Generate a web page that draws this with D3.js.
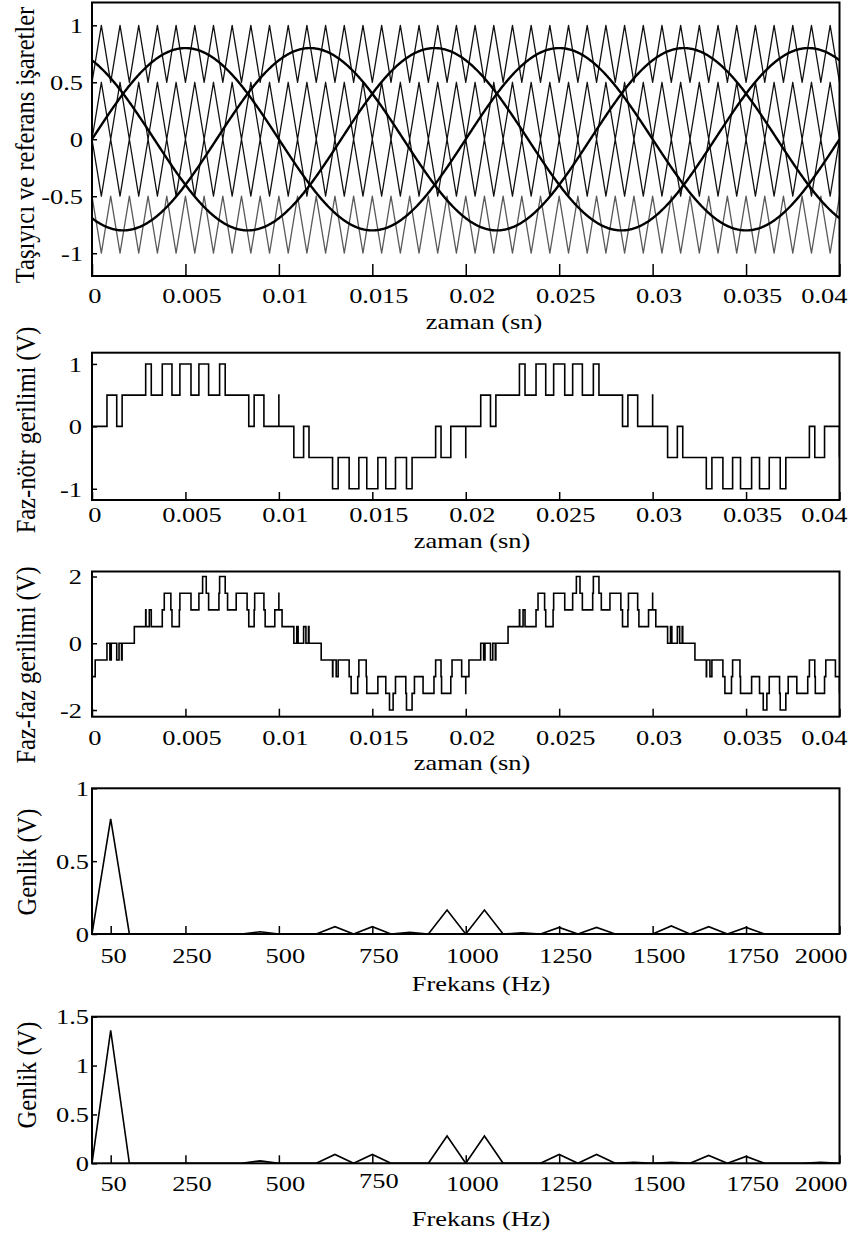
<!DOCTYPE html>
<html>
<head>
<meta charset="utf-8">
<script src="https://cdn.jsdelivr.net/npm/d3@7"></script>
<style>
  body { margin: 0; background: #fff; }
  svg { display: block; }
  text { font-family: "Liberation Serif", "Times New Roman", serif; fill: #000; }
</style>
</head>
<body>
<svg id="fig" width="862" height="1241"></svg>
<script>
// ---- time axis ----
const timeTicks = [0, 0.005, 0.01, 0.015, 0.02, 0.025, 0.03, 0.035, 0.04];
const timeTickLabels = ["0", "0.005", "0.01", "0.015", "0.02", "0.025", "0.03", "0.035", "0.04"];

// ---- modulation: three-phase sine references, level-shifted triangle carriers
//      (upper pair in phase, lower pair in opposition) ----
const referenceFrequencyHz = [50];
const referenceAmplitude = [0.8];
const referencePhasesDeg = [0, 120, -120];
const carrierFrequencyHz = [1000];
const carrierBandLow = [0.5, 0, -0.5, -1];
const carrierBandHigh = [1, 0.5, 0, -0.5];
const carrierPhaseDeg = [0, 0, 180, 180];
const outputLevelStep = [0.5];

// ---- y ticks ----
const carrierTicks = [-1, -0.5, 0, 0.5, 1];
const carrierTickLabels = ["-1", "-0.5", "0", "0.5", "1"];
const phaseTicks = [-1, 0, 1];
const phaseTickLabels = ["-1", "0", "1"];
const lineTicks = [-2, 0, 2];
const lineTickLabels = ["-2", "0", "2"];

// ---- harmonic spectra ----
const spectrumFreqHz = [0, 50, 100, 150, 200, 250, 300, 350, 400, 450, 500, 550, 600, 650, 700, 750, 800, 850, 900, 950,
  1000, 1050, 1100, 1150, 1200, 1250, 1300, 1350, 1400, 1450, 1500, 1550, 1600, 1650, 1700, 1750, 1800, 1850, 1900, 1950, 2000];
const phaseSpectrum = [0, 0.79, 0, 0, 0, 0, 0, 0, 0, 0.015, 0, 0, 0, 0.05, 0, 0.05, 0, 0.012, 0, 0.165,
  0, 0.165, 0, 0.008, 0, 0.045, 0, 0.045, 0, 0, 0, 0.055, 0, 0.05, 0, 0.045, 0, 0, 0, 0, 0];
const lineSpectrum = [0, 1.36, 0, 0, 0, 0, 0, 0, 0, 0.025, 0, 0, 0, 0.09, 0, 0.09, 0, 0, 0, 0.28,
  0, 0.28, 0, 0, 0, 0.09, 0, 0.09, 0, 0.01, 0, 0.01, 0, 0.08, 0, 0.07, 0, 0, 0, 0.01, 0];
const freqTicks = [50, 250, 500, 750, 1000, 1250, 1500, 1750, 2000];
const freqTickLabels = ["50", "250", "500", "750", "1000", "1250", "1500", "1750", "2000"];
const amp1Ticks = [0, 0.5, 1];
const amp1TickLabels = ["0", "0.5", "1"];
const amp2Ticks = [0, 0.5, 1, 1.5];
const amp2TickLabels = ["0", "0.5", "1", "1.5"];

// ---------------------------------------------------------------
const svg = d3.select("#fig");
const STRETCH = 1.2;           // wide glyph look of the labels
const FONT_TICK = 22;
const FONT_LABEL = 24.5;

const tEnd = timeTicks[timeTicks.length - 1];
const fc = carrierFrequencyHz[0];
const fr = referenceFrequencyHz[0];
const Am = referenceAmplitude[0];

function reference(t, phaseDeg) {
  return Am * Math.sin(2 * Math.PI * fr * t + phaseDeg * Math.PI / 180);
}
// unit triangle: 0 at the start of each carrier period, 1 at its middle
function triangleUnit(t, phaseDeg) {
  let f = (t * fc + phaseDeg / 360) % 1;
  if (f < 0) f += 1;
  return 1 - Math.abs(2 * f - 1);
}
function carrierValue(i, t) {
  return carrierBandLow[i] + (carrierBandHigh[i] - carrierBandLow[i]) * triangleUnit(t, carrierPhaseDeg[i]);
}
// output level of one phase leg from comparing its reference with every carrier
function legLevel(t, phaseDeg) {
  const r = reference(t, phaseDeg);
  let n = 0;
  for (let i = 0; i < carrierBandLow.length; i++) {
    if (r > carrierValue(i, t)) n++;
  }
  return (n - carrierBandLow.length / 2) * outputLevelStep[0];
}
// collect the switching instants of a level function as step points
function stepPoints(fn) {
  const N = 80000;
  const pts = [];
  let prev = fn(0);
  pts.push([0, prev]);
  for (let k = 1; k <= N; k++) {
    const t = tEnd * k / N;
    const v = fn(t);
    if (v !== prev) { pts.push([t, v]); prev = v; }
  }
  pts.push([tEnd, prev]);
  return pts;
}

let clipId = 0;
function makePanel(cfg) {
  const g = svg.append("g");
  const x = d3.scaleLinear().domain(cfg.xDomain).range([cfg.left, cfg.right]);
  const y = d3.scaleLinear().domain(cfg.yDomain).range([cfg.bottom, cfg.top]);
  const id = "clip" + (clipId++);
  g.append("clipPath").attr("id", id).append("rect")
    .attr("x", cfg.left).attr("y", cfg.top)
    .attr("width", cfg.right - cfg.left).attr("height", cfg.bottom - cfg.top);
  const plot = g.append("g").attr("clip-path", `url(#${id})`);

  // bottom axis with inward ticks
  const xAxis = d3.axisBottom(x).tickValues(cfg.xTicks)
    .tickFormat((d, i) => cfg.xLabels[i]).tickSize(-cfg.xTickLen).tickSizeOuter(0);
  const gx = g.append("g").attr("transform", `translate(0,${cfg.bottom})`).call(xAxis);
  gx.select(".domain").remove();
  gx.selectAll("line").attr("stroke", "#000").attr("stroke-width", 1.5);
  gx.selectAll("text")
    .attr("font-size", FONT_TICK).attr("dy", null)
    .attr("y", (d, i) => cfg.xLabelBase + (cfg.xLabelLift && cfg.xLabelLift[i] ? -cfg.xLabelLift[i] : 0))
    .attr("x", (d, i) => i === 0 ? 2 : (i === cfg.xTicks.length - 1 ? (cfg.lastRight - cfg.right) / STRETCH : 6 / STRETCH))
    .attr("text-anchor", (d, i) => i === cfg.xTicks.length - 1 ? "end" : "middle")
    .attr("transform", `scale(${STRETCH},1)`);

  // left axis with inward ticks
  const yAxis = d3.axisLeft(y).tickValues(cfg.yTicks)
    .tickFormat((d, i) => cfg.yLabels[i]).tickSize(-5).tickSizeOuter(0);
  const gy = g.append("g").attr("transform", `translate(${cfg.left},0)`).call(yAxis);
  gy.select(".domain").remove();
  gy.selectAll("line").attr("stroke", "#000").attr("stroke-width", 1.5);
  gy.selectAll("text")
    .attr("font-size", FONT_TICK).attr("dy", "0.33em")
    .attr("x", -cfg.yLabelGap / STRETCH)
    .attr("text-anchor", "end")
    .attr("transform", `scale(${STRETCH},1)`);

  // axis titles
  g.append("text")
    .attr("transform", `translate(${cfg.xTitleX},${cfg.xTitleY}) scale(${STRETCH},1)`)
    .attr("text-anchor", "middle").attr("font-size", FONT_TICK)
    .text(cfg.xTitle);
  g.append("text")
    .attr("transform", `translate(${cfg.yTitleX},${cfg.yTitleY}) scale(1.12,1) rotate(-90)`)
    .attr("text-anchor", "middle").attr("font-size", FONT_LABEL)
    .text(cfg.yTitle);

  return { g, plot, x, y, frame: () => g.append("rect")
    .attr("x", cfg.left).attr("y", cfg.top)
    .attr("width", cfg.right - cfg.left).attr("height", cfg.bottom - cfg.top)
    .attr("fill", "none").attr("stroke", "#000").attr("stroke-width", 2) };
}

const L = 92, R = 839.5, LAST_RIGHT = 847;

// ---- panel 1: carriers and references ----
{
  const p = makePanel({
    left: L, right: R, top: 2.5, bottom: 276,
    xDomain: [0, tEnd], yDomain: [-1.2, 1.2],
    xTicks: timeTicks, xLabels: timeTickLabels, xTickLen: 12, xLabelBase: 27.5, lastRight: LAST_RIGHT,
    yTicks: carrierTicks, yLabels: carrierTickLabels, yLabelGap: 9,
    xTitle: "zaman (sn)", xTitleX: 484, xTitleY: 328.5,
    yTitle: "Taşıyıcı ve referans işaretler", yTitleX: 34, yTitleY: 145
  });
  const line = d3.line().x(d => p.x(d[0])).y(d => p.y(d[1]));
  const halfSteps = Math.round(tEnd * fc * 2);
  carrierBandLow.forEach((lo, i) => {
    const verts = d3.range(halfSteps + 1).map(k => {
      const t = k / (2 * fc);
      return [t, carrierValue(i, t)];
    });
    p.plot.append("path").attr("d", line(verts)).attr("fill", "none")
      .attr("stroke", i === carrierBandLow.length - 1 ? "#5a5a5a" : "#111")
      .attr("stroke-width", 1.3).attr("stroke-linejoin", "round");
  });
  const ts = d3.range(0, 1001).map(k => tEnd * k / 1000);
  referencePhasesDeg.forEach(ph => {
    p.plot.append("path").attr("d", line(ts.map(t => [t, reference(t, ph)])))
      .attr("fill", "none").attr("stroke", "#000").attr("stroke-width", 2.4);
  });
  p.frame();
}

// ---- panel 2: phase-to-neutral voltage ----
{
  const p = makePanel({
    left: L, right: R, top: 352.7, bottom: 500,
    xDomain: [0, tEnd], yDomain: [-1.18, 1.18],
    xTicks: timeTicks, xLabels: timeTickLabels, xTickLen: 8, xLabelBase: 22.5, lastRight: LAST_RIGHT,
    yTicks: phaseTicks, yLabels: phaseTickLabels, yLabelGap: 10,
    xTitle: "zaman (sn)", xTitleX: 472, xTitleY: 547.5,
    yTitle: "Faz-nötr gerilimi (V)", yTitleX: 35, yTitleY: 430
  });
  const line = d3.line().curve(d3.curveStepAfter).x(d => p.x(d[0])).y(d => p.y(d[1]));
  const pts = stepPoints(t => legLevel(t, referencePhasesDeg[0]));
  p.plot.append("path").attr("d", line(pts)).attr("fill", "none")
    .attr("stroke", "#000").attr("stroke-width", 1.6);
  p.frame();
}

// ---- panel 3: line-to-line voltage ----
{
  const p = makePanel({
    left: L, right: R, top: 571.5, bottom: 716.7,
    xDomain: [0, tEnd], yDomain: [-2.2, 2.15],
    xTicks: timeTicks, xLabels: timeTickLabels, xTickLen: 8, xLabelBase: 28, lastRight: LAST_RIGHT,
    yTicks: lineTicks, yLabels: lineTickLabels, yLabelGap: 10,
    xTitle: "zaman (sn)", xTitleX: 472, xTitleY: 769.5,
    yTitle: "Faz-faz gerilimi (V)", yTitleX: 35, yTitleY: 665
  });
  const line = d3.line().curve(d3.curveStepAfter).x(d => p.x(d[0])).y(d => p.y(d[1]));
  const pts = stepPoints(t => legLevel(t, referencePhasesDeg[0]) - legLevel(t, referencePhasesDeg[1]));
  p.plot.append("path").attr("d", line(pts)).attr("fill", "none")
    .attr("stroke", "#000").attr("stroke-width", 1.6);
  p.frame();
}

// ---- panels 4 and 5: amplitude spectra ----
function spectrumPanel(values, top, bottom, yDomain, yTicks, yLabels, xLabelBase, xTitleY, yTitleY, xLabelLift) {
  const p = makePanel({
    left: L, right: R, top, bottom,
    xDomain: [0, 2000], yDomain,
    xTicks: freqTicks, xLabels: freqTickLabels, xTickLen: 8, xLabelBase, lastRight: LAST_RIGHT, xLabelLift,
    yTicks, yLabels, yLabelGap: 3,
    xTitle: "Frekans (Hz)", xTitleX: 481, xTitleY,
    yTitle: "Genlik (V)", yTitleX: 36, yTitleY
  });
  const line = d3.line().x((d, i) => p.x(spectrumFreqHz[i])).y(d => p.y(d));
  p.plot.append("path").attr("d", line(values)).attr("fill", "none")
    .attr("stroke", "#000").attr("stroke-width", 1.6).attr("stroke-linejoin", "miter");
  p.frame();
}
spectrumPanel(phaseSpectrum, 788.3, 934, [0, 1], amp1Ticks, amp1TickLabels, 29, 990.5, 862, null);
spectrumPanel(lineSpectrum, 1016.7, 1163.3, [0, 1.5], amp2Ticks, amp2TickLabels, 28, 1226, 1075, [0, 0, 0, 3, 0, 0, 0, 0, 0]);
</script>
</body>
</html>
